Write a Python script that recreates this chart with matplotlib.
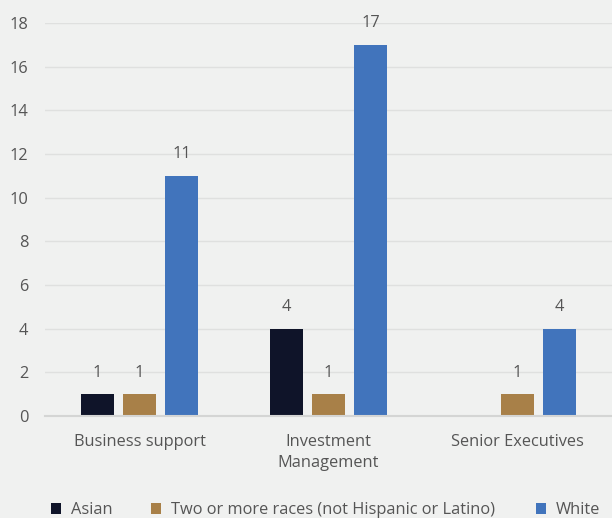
import matplotlib.pyplot as plt
import numpy as np

categories = ["Business support", "Investment\nManagement", "Senior Executives"]
series = ["Asian", "Two or more races (not Hispanic or Latino)", "White"]
asian = [1, 4, None]
two_more = [1, 1, 1]
white = [11, 17, 4]
colors = ["#0f1429", "#a88048", "#4174bc"]

plt.rcParams['font.family'] = ['Open Sans', 'DejaVu Sans']
bg = "#f0f1f0"
txt = "#555555"
fs = 11.8

fig = plt.figure(figsize=(6.12, 5.18), dpi=100, facecolor=bg)
ax = fig.add_axes([45/612, 1-416/518, 1-45/612, (416-23)/518], facecolor=bg)

x = np.arange(len(categories))
width = 0.176
step = 0.222
handles = []
for i, (name, vals) in enumerate(zip(series, [asian, two_more, white])):
    xs = [xi + (i-1)*step for xi, v in zip(x, vals) if v is not None]
    vs = [v for v in vals if v is not None]
    bars = ax.bar(xs, vs, width, color=colors[i], label=name, zorder=3)
    handles.append(bars)
    for b, v in zip(bars, vs):
        ax.text(b.get_x() + b.get_width()/2, v + 0.62, str(v), ha='center', va='bottom',
                fontsize=fs, color=txt)

ax.set_xlim(-0.5, 2.5)
ax.set_ylim(0, 18)
ax.set_yticks(range(0, 19, 2))
ax.set_xticks(x)
ax.set_xticklabels(categories, fontsize=fs, color=txt, linespacing=1.45)
ax.tick_params(axis='y', labelsize=fs, labelcolor=txt, length=0, pad=12)
ax.tick_params(axis='x', length=0, pad=13)
ax.grid(axis='y', color='#dfe0df', linewidth=1, zorder=0)
for s in ['top', 'right', 'left']:
    ax.spines[s].set_visible(False)
ax.spines['bottom'].set_color('#d4d5d4')
ax.spines['bottom'].set_linewidth(1.5)
ax.spines['bottom'].set_zorder(4)

# legend entries placed individually (uneven spacing like the original)
leg_x = [51, 151, 536]
for h, name, lx in zip(handles, series, leg_x):
    leg = fig.legend([h], [name], loc='center left', bbox_to_anchor=(lx/612, 1-510/518),
                     frameon=False, fontsize=fs, handlelength=0.62, handleheight=0.62,
                     handletextpad=0.6, borderpad=0, borderaxespad=0)
    for t in leg.get_texts():
        t.set_color(txt)

fig.savefig("out.png", dpi=100, facecolor=bg)
